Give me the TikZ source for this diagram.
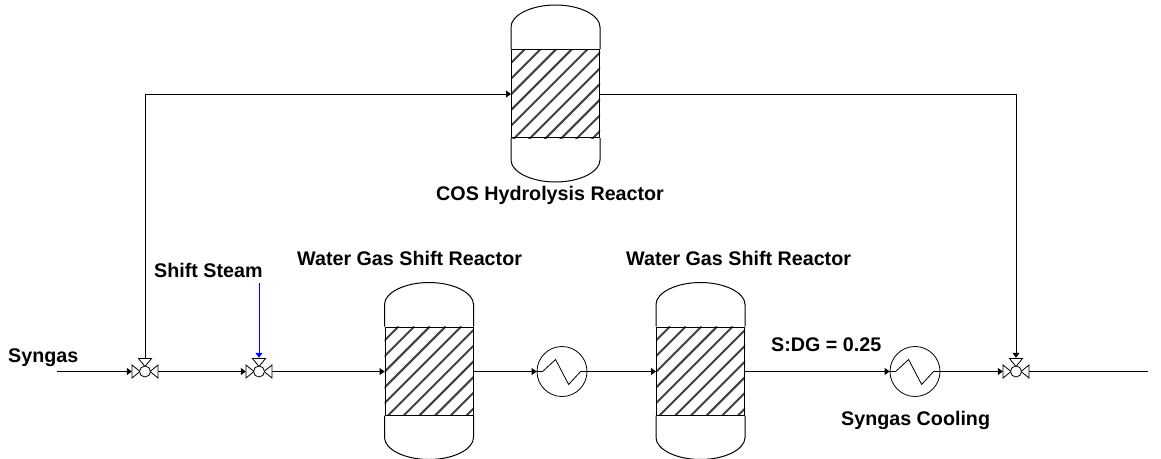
\documentclass[tikz,border=0pt]{standalone}
\usepackage{fontspec}
\setmainfont{Liberation Sans}
\usetikzlibrary{arrows.meta,calc}
\tikzset{
  x=1pt,y=-1pt,
  flow/.style={line width=1pt,-{Triangle[length=5pt,width=7pt]}},
  plain/.style={line width=1pt},
  lbl/.style={font=\fontsize{19.7}{22}\selectfont\bfseries,inner sep=0pt},
  bedbox/.style={draw,line width=1pt,minimum width=88pt,minimum height=88pt,inner sep=0pt},
  hxbox/.style={draw,circle,line width=.8pt,minimum size=50pt,inner sep=0pt},
  valvebox/.style={minimum width=26pt,minimum height=27pt,inner sep=0pt},
}
\newcommand{\vessel}[1]{%
  \coordinate (ta) at ($(#1.north west)+(0,-22)$);
  \coordinate (tb) at ($(#1.north)+(0,-44)$);
  \coordinate (tc) at ($(#1.north east)+(0,-22)$);
  \coordinate (ba) at ($(#1.south west)+(0,22)$);
  \coordinate (bb) at ($(#1.south)+(0,44)$);
  \coordinate (bc) at ($(#1.south east)+(0,22)$);
  \draw[line width=1pt] (#1.north west) -- (ta)
    .. controls ($(ta)+(0,-12)$) and ($(tb)+(-24,0)$) .. (tb)
    .. controls ($(tb)+(24,0)$) and ($(tc)+(0,-12)$) .. (tc) -- (#1.north east);
  \draw[line width=1pt] (#1.south west) -- (ba)
    .. controls ($(ba)+(0,12)$) and ($(bb)+(-24,0)$) .. (bb)
    .. controls ($(bb)+(24,0)$) and ($(bc)+(0,12)$) .. (bc) -- (#1.south east);
  \begin{scope}
    \clip (#1.north west) rectangle (#1.south east);
    \path (#1.north west) ++(14,0) coordinate (h0);
    \foreach \k in {-6,...,11}{
      \draw[line width=2pt,black!75] ($(h0)+(15.7*\k,0)$) -- ++(-100,100);
    }
  \end{scope}
  \node[draw,line width=1pt,minimum width=88pt,minimum height=88pt,inner sep=0pt] at (#1) {};
}
\newcommand{\valve}[1]{%
  \draw[line width=.8pt,fill=white] (#1)++(-5,0) -- ++(-8,-6.5) -- ++(0,13) -- cycle;
  \draw[line width=.8pt,fill=white] (#1)++(5,0) -- ++(8,-6.5) -- ++(0,13) -- cycle;
  \draw[line width=.8pt,fill=white] (#1)++(0,-5) -- ++(-6.5,-8) -- ++(13,0) -- cycle;
  \draw[line width=.8pt,fill=white] (#1) circle (5.5);
}
\newcommand{\zig}[1]{%
  \draw[line width=.8pt] (#1.west) -- ++(6,0) -- ++(13,-12) -- ++(13,25) -- ++(12,-13) -- (#1.east);
}
\begin{document}
\begin{tikzpicture}
\useasboundingbox (0,0) rectangle (1161,458);
\begin{scope}
\clip (0,0) rectangle (1161,458);

\node[bedbox] (cos) at (555.5,93.5) {};
\node[bedbox] (r1) at (429,371) {};
\node[bedbox] (r2) at (700.5,371) {};
\vessel{cos}\vessel{r1}\vessel{r2}

\node[hxbox] (h1) at (562,371.5) {};
\node[hxbox] (h2) at (915,371.5) {};
\zig{h1}\zig{h2}

\node[valvebox] (v1) at (145,371.5) {};
\node[valvebox] (v2) at (259,371.5) {};
\node[valvebox] (v3) at (1016,371.5) {};
\valve{v1}\valve{v2}\valve{v3}

\coordinate (in) at (57,371.5);
\coordinate (out) at (1148,371.5);
\coordinate (stm) at (259,283);
\coordinate (tl) at (145,94);
\coordinate (tr) at (1016,94);

\draw[flow] (in) -- (v1.west);
\draw[flow] (v1.east) -- (v2.west);
\draw[flow] (v2.east) -- (r1.west |- v2.east);
\draw[flow] (r1.east |- h1.west) -- (h1.west);
\draw[flow] (h1.east) -- (r2.west |- h1.east);
\draw[flow] (r2.east |- h2.west) -- (h2.west);
\draw[flow] (h2.east) -- (v3.west);
\draw[plain] (v3.east) -- (out);
\draw[plain] (v1.north) -- (tl);
\draw[flow] (tl) -- (cos.west |- tl);
\draw[plain] (cos.east |- tr) -- (tr);
\draw[flow] (tr) -- (v3.north);
\draw[flow,blue] (stm) -- (v2.north);

\node[lbl,anchor=west] (t1) at (8,358) {Syngas};
\node[lbl,anchor=west] (t2) at (154,270.5) {Shift Steam};
\node[lbl,anchor=west] (t3) at (297,258) {Water Gas Shift Reactor};
\node[lbl,anchor=west] (t4) at (626,258) {Water Gas Shift Reactor};
\node[lbl,anchor=west] (t5) at (436,195) {COS Hydrolysis Reactor};
\node[lbl,anchor=west] (t6) at (771,344.5) {S:DG = 0.25};
\node[lbl,anchor=west] (t7) at (841,420) {Syngas Cooling};
\end{scope}
\end{tikzpicture}
\end{document}
